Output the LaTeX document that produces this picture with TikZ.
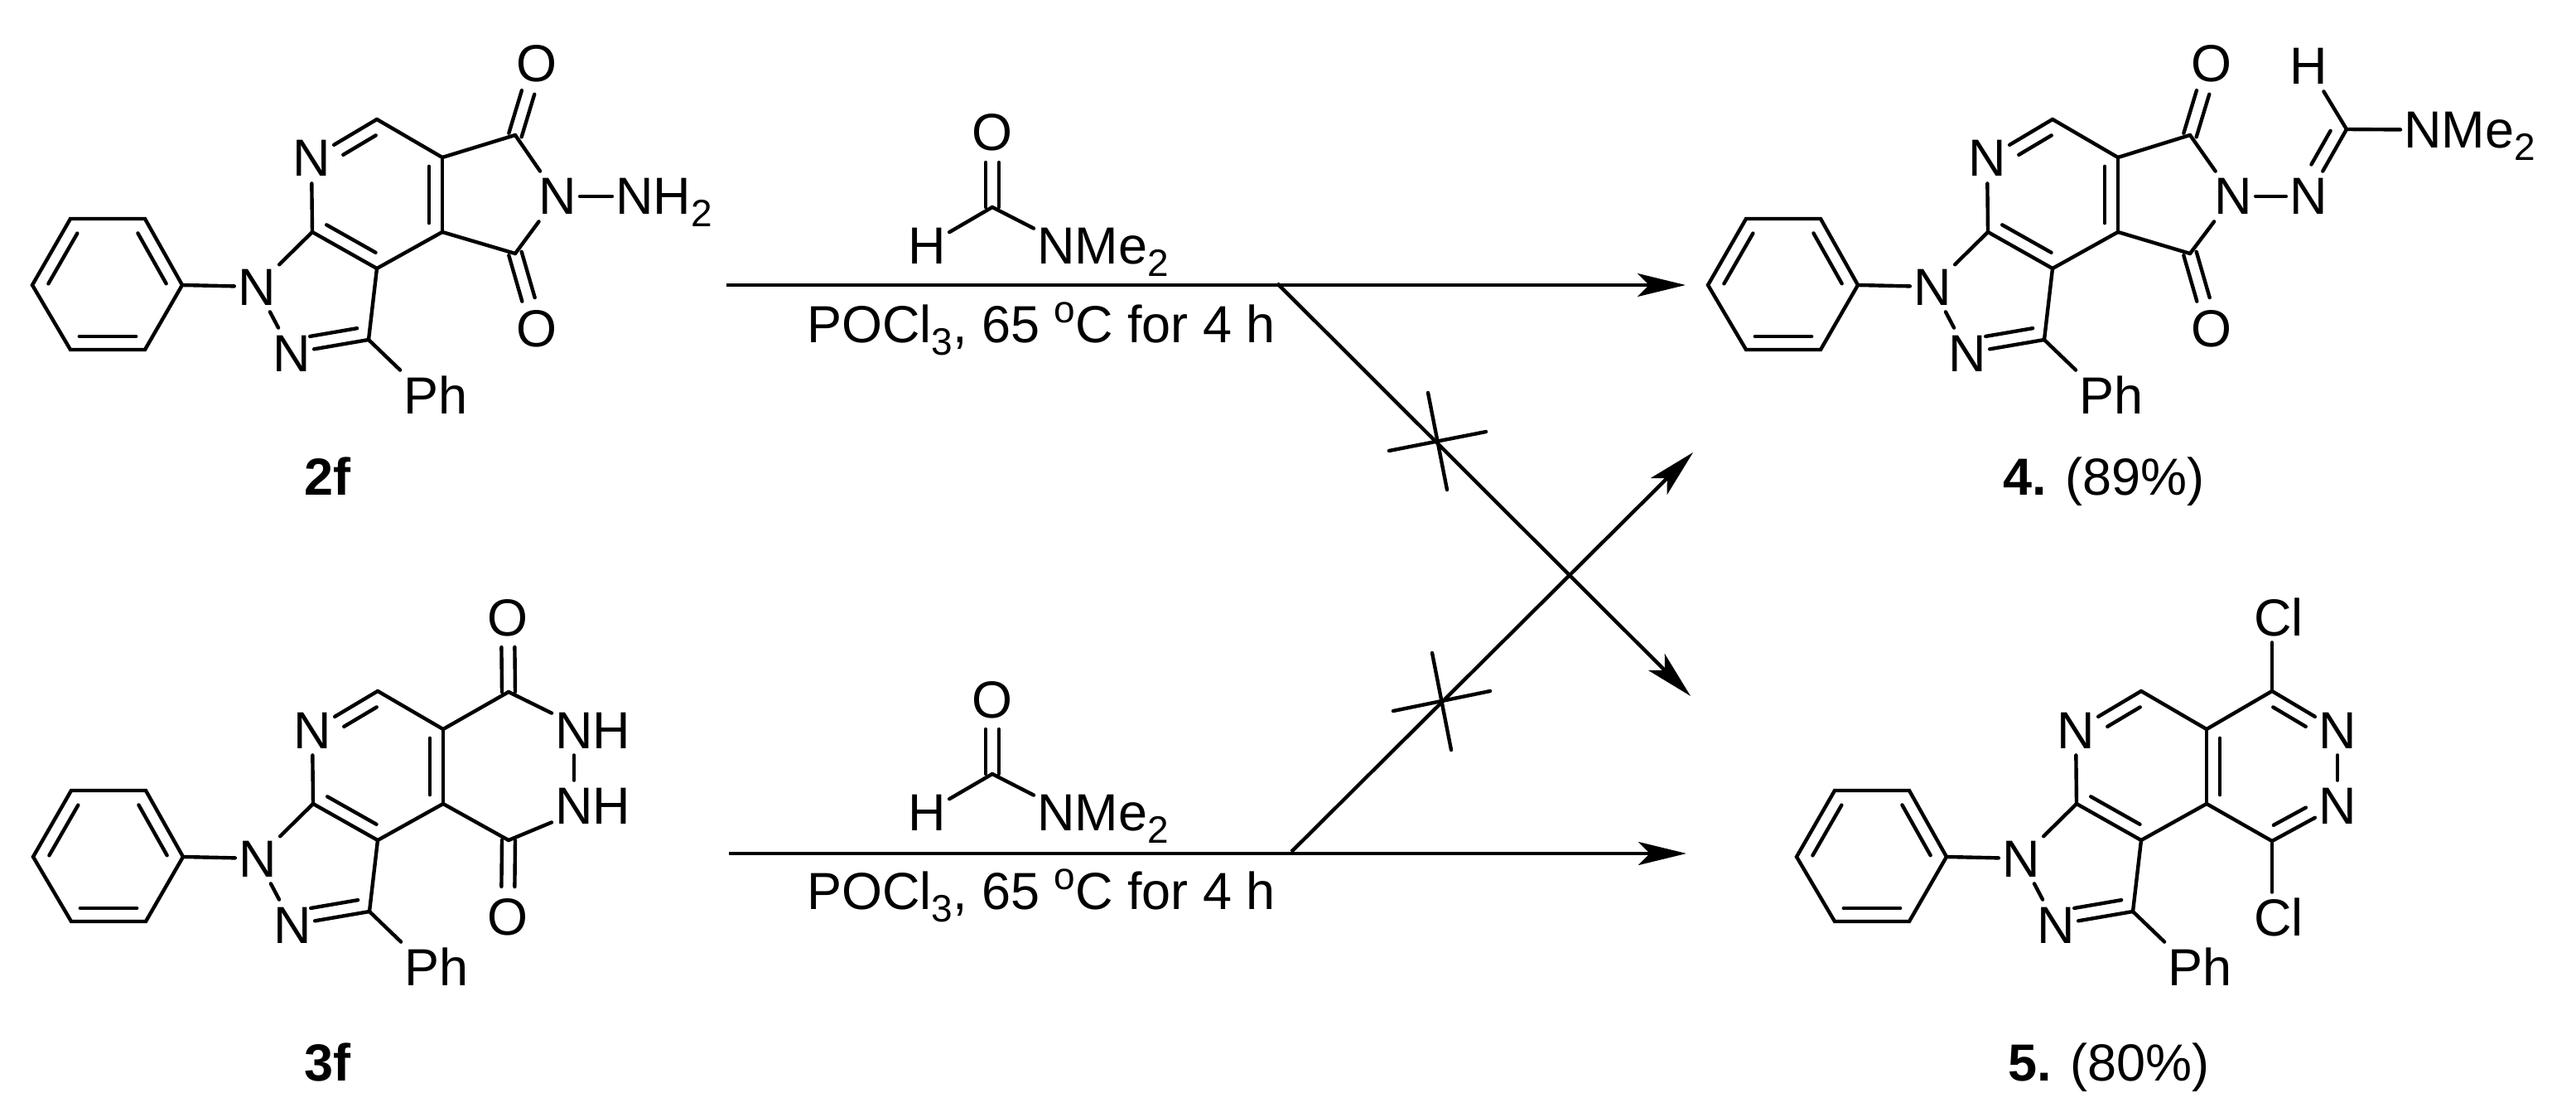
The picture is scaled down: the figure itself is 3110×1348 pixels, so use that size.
\documentclass[tikz,border=0pt]{standalone}
\usepackage{fontspec}
\setmainfont{Liberation Sans}
\usetikzlibrary{calc,arrows.meta}
\newcommand{\subnum}[1]{\raisebox{-7.5pt}{\fontsize{23}{23}\selectfont #1}}
\newcommand{\upnum}[1]{\raisebox{12pt}{\fontsize{23}{23}\selectfont #1}}
\newcommand{\innerline}[3][]{\draw[bond,#1] ($(#2)!0.12!(#3)!8pt!90:(#3)$) -- ($(#3)!0.12!(#2)!8pt!-90:(#2)$);}
\newcommand{\carbonyl}[2]{
    \draw[bond,shorten >=18pt] ($(#1)!4pt!90:(#2)$) -- ($(#2)!4pt!-90:(#1)$);
    \draw[bond,shorten >=18pt] ($(#1)!4pt!-90:(#2)$) -- ($(#2)!4pt!90:(#1)$);
}
\newcommand{\pyrazolecore}{
    \coordinate (ph1) at (85,264);
    \coordinate (ph2) at (175,264);
    \coordinate (ph3) at (220,344);
    \coordinate (ph4) at (175,422);
    \coordinate (ph5) at (85,422);
    \coordinate (ph6) at (39,344);
    \coordinate (c3) at (445,410);
    \coordinate (c3a) at (455,324);
    \coordinate (c7a) at (377,280);
    \coordinate (c6) at (455,144);
    \coordinate (c4a) at (534,190);
    \coordinate (c7b) at (534,280);
    \node[atom] (n1) at (310,346) {N};
    \node[atom] (n2) at (352,426) {N};
    \node[atom] (n7) at (376,191) {N};
    \node[atom] (phenyl) at (526,477) {Ph};
    \draw[bond] (ph1) -- (ph2) -- (ph3) -- (ph4) -- (ph5) -- (ph6) -- cycle;
    \innerline{ph1}{ph6}
    \innerline{ph5}{ph4}
    \innerline{ph3}{ph2}
    \draw[bond] (ph3) -- (n1);
    \draw[bond] (n1) -- (c7a);
    \draw[bond] (n1) -- (n2);
    \draw[bond] (n2) -- (c3);
    \innerline[shorten <=7pt]{n2}{c3}
    \draw[bond] (c3) -- (c3a);
    \draw[bond] (c3) -- (phenyl.north west);
    \draw[bond] (c3a) -- (c7a);
    \innerline{c7a}{c3a}
    \draw[bond] (c7a) -- (n7);
    \draw[bond] (n7) -- (c6);
    \innerline[shorten >=12pt]{c6}{n7}
    \draw[bond] (c6) -- (c4a);
    \draw[bond] (c4a) -- (c7b);
    \draw[bond] (c7b) -- (c3a);
}
\newcommand{\formamide}{
    \coordinate (cho) at (1198,250);
    \node[atom] (oxo) at (1198,160) {O};
    \node[atom] (hyd) at (1119,296) {H};
    \node[atom,anchor=west] (nme) at (1248,296) {NMe\subnum{2}};
    \node[atom] (pocl) at (1257,391) {POCl\subnum{3}, 65 \upnum{o}C for 4 h};
    \carbonyl{cho}{oxo}
    \draw[bond] (cho) -- (hyd);
    \draw[bond] (cho) -- ([yshift=-5pt]nme.north west);
}
\tikzset{
    bond/.style={line width=2.2pt,line cap=round},
    atom/.style={inner xsep=2pt,inner ysep=4pt,text height=22pt,text depth=0pt,font=\fontsize{31.5}{36}\selectfont},
    rxn/.style={line width=2.2pt,-{Stealth[length=29pt,width=14pt,inset=7pt]}}
}
\begin{document}
\begin{tikzpicture}[x=0.5pt,y=-0.5pt]
    \useasboundingbox (0,0) rectangle (3110,1348);

    \begin{scope}[name prefix=mol2f-]
        \pyrazolecore
        \coordinate (co1) at (622,163);
        \coordinate (co2) at (622,306);
        \node[atom] (oa) at (648,77) {O};
        \node[atom] (ob) at (648,396) {O};
        \node[atom] (nr) at (673,237) {N};
        \node[atom,anchor=west] (nh) at (739,237) {NH\subnum{2}};
        \innerline{c7b}{c4a}
        \draw[bond] (c4a) -- (co1);
        \draw[bond] (c7b) -- (co2);
        \draw[bond] (co1) -- (nr);
        \draw[bond] (co2) -- (nr);
        \draw[bond] (nr) -- (nh);
        \carbonyl{co1}{oa}
        \carbonyl{co2}{ob}
    \end{scope}

    \begin{scope}[shift={(1,690)},name prefix=mol3f-]
        \pyrazolecore
        \coordinate (co1) at (613,145);
        \coordinate (co2) at (613,324);
        \node[atom] (oa) at (612,55) {O};
        \node[atom] (ob) at (612,416) {O};
        \node[atom,anchor=west] (nha) at (665,191) {NH};
        \node[atom,anchor=west] (nhb) at (665,282) {NH};
        \innerline{c7b}{c4a}
        \draw[bond] (c4a) -- (co1);
        \draw[bond] (c7b) -- (co2);
        \draw[bond] (co1) -- ([yshift=-5pt]nha.north west);
        \draw[bond] (co2) -- ([yshift=5pt]nhb.south west);
        \draw[bond] ([xshift=13.5pt]nha.south west) -- ([xshift=13.5pt]nhb.north west);
        \carbonyl{co1}{oa}
        \carbonyl{co2}{ob}
    \end{scope}

    \begin{scope}[shift={(2023,0)},name prefix=mol4-]
        \pyrazolecore
        \coordinate (co1) at (621,163);
        \coordinate (co2) at (621,306);
        \coordinate (chn) at (810,156);
        \node[atom] (oa) at (647,77) {O};
        \node[atom] (ob) at (647,396) {O};
        \node[atom] (nr) at (673,237) {N};
        \node[atom] (ni) at (764,237) {N};
        \node[atom] (hy) at (764,80) {H};
        \node[atom,anchor=west] (nm) at (875,157) {NMe\subnum{2}};
        \innerline{c7b}{c4a}
        \draw[bond] (c4a) -- (co1);
        \draw[bond] (c7b) -- (co2);
        \draw[bond] (co1) -- (nr);
        \draw[bond] (co2) -- (nr);
        \draw[bond] (nr) -- (ni);
        \draw[bond] (ni) -- (chn);
        \innerline[shorten <=12pt]{ni}{chn}
        \draw[bond] (chn) -- (hy);
        \draw[bond] (chn) -- (nm);
        \carbonyl{co1}{oa}
        \carbonyl{co2}{ob}
    \end{scope}

    \begin{scope}[shift={(2130,690)},name prefix=mol5-]
        \pyrazolecore
        \coordinate (cc1) at (613,144);
        \coordinate (cc2) at (613,325);
        \node[atom] (cla) at (621,55) {Cl};
        \node[atom] (clb) at (621,417) {Cl};
        \node[atom] (na) at (692,191) {N};
        \node[atom] (nb) at (692,282) {N};
        \innerline{c4a}{c7b}
        \draw[bond] (c4a) -- (cc1);
        \draw[bond] (c7b) -- (cc2);
        \draw[bond] (cc1) -- (na);
        \innerline[shorten <=12pt]{na}{cc1}
        \draw[bond] (cc2) -- (nb);
        \innerline[shorten >=12pt]{cc2}{nb}
        \draw[bond] (na) -- (nb);
        \draw[bond] (cc1) -- (cla.south -| cc1);
        \draw[bond] (cc2) -- (clb.north -| cc2);
    \end{scope}

    \node[atom] (lab2f) at (396,575) {\textbf{2f}};
    \node[atom] (lab3f) at (396,1282) {\textbf{3f}};
    \node[atom] (lab4) at (2540,575) {\textbf{4.} (89\%)};
    \node[atom] (lab5) at (2546,1282) {\textbf{5.} (80\%)};

    \begin{scope}[name prefix=top-]
        \formamide
    \end{scope}
    \begin{scope}[shift={(0,684)},name prefix=low-]
        \formamide
    \end{scope}

    \coordinate (startA) at (877,344);
    \coordinate (endA) at (2035,344);
    \coordinate (forkA) at (1542,342);
    \coordinate (crossA) at (2041,840);
    \coordinate (startB) at (880,1030);
    \coordinate (endB) at (2036,1030);
    \coordinate (forkB) at (1559,1028);
    \coordinate (crossB) at (2044,546);
    \coordinate (tickA1) at (1724,474);
    \coordinate (tickA2) at (1747,591);
    \coordinate (tickA3) at (1677,544);
    \coordinate (tickA4) at (1794,521);
    \coordinate (tickB1) at (1729,788);
    \coordinate (tickB2) at (1752,905);
    \coordinate (tickB3) at (1682,858);
    \coordinate (tickB4) at (1799,834);
    \draw[rxn] (startA) -- (endA);
    \draw[rxn] (forkA) -- (crossA);
    \draw[rxn] (startB) -- (endB);
    \draw[rxn] (forkB) -- (crossB);
    \draw[bond] (tickA1) -- (tickA2);
    \draw[bond] (tickA3) -- (tickA4);
    \draw[bond] (tickB1) -- (tickB2);
    \draw[bond] (tickB3) -- (tickB4);
\end{tikzpicture}
\end{document}
